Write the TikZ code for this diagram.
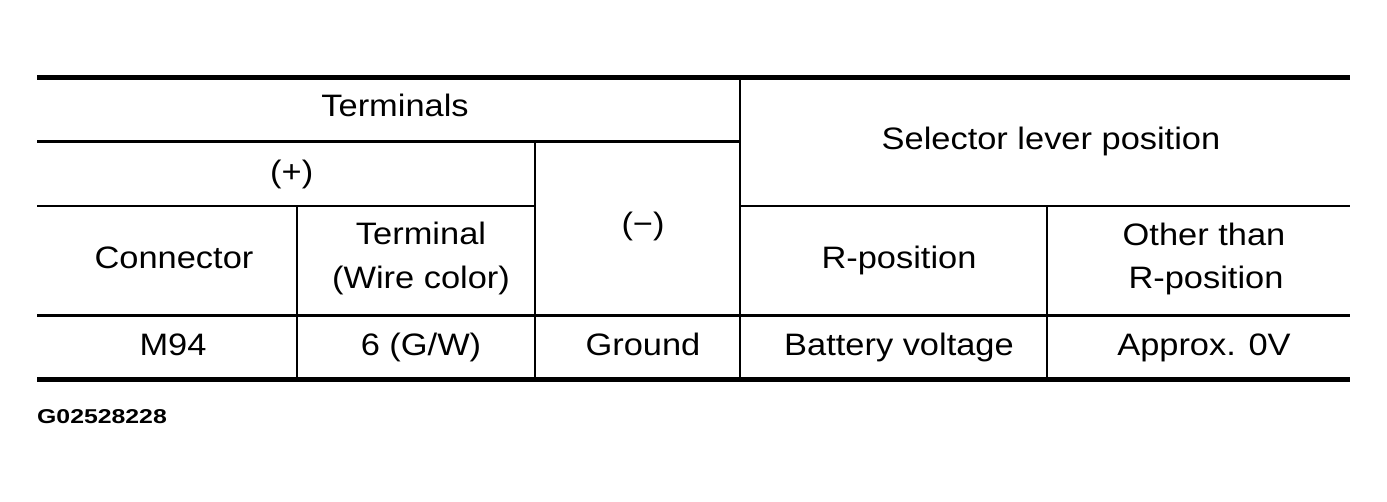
\documentclass[tikz,border=0pt]{standalone}
\usepackage{fontspec}
\setmainfont{Liberation Sans}[FakeStretch=1.11]
\newfontfamily\codefont{Liberation Sans}[FakeStretch=1.24]
\begin{document}
\begin{tikzpicture}[x=1pt,y=-1pt,
  txt/.style={anchor=base,inner sep=0pt,font=\fontsize{31}{37}\selectfont},
  code/.style={anchor=base west,inner sep=0pt,font=\codefont\bfseries\fontsize{20}{24}\selectfont},
  thickrule/.style={line width=5pt},
  thinrule/.style={line width=2.4pt}]
\useasboundingbox (0,0) rectangle (1387,502);
% rules
\draw[thickrule] (37,78) -- (1350,78);
\draw[thickrule] (37,380) -- (1350,380);
\draw[thinrule] (37,141.7) -- (740,141.7);
\draw[thinrule] (37,206) -- (535,206);
\draw[thinrule] (740,206) -- (1350,206);
\draw[thinrule] (37,315.7) -- (1350,315.7);
\draw[thinrule] (740,78) -- (740,380);
\draw[thinrule] (535,141.7) -- (535,380);
\draw[thinrule] (297,206) -- (297,380);
\draw[thinrule] (1047,206) -- (1047,380);
% header texts
\node[txt] (terminals) at (395,117) {Terminals};
\node[txt] (plus) at (291.7,183) {(+)};
\node[txt] (minus) at (643,235) {(−)};
\node[txt] (connector) at (174,269) {Connector};
\node[txt] (terminal) at (421,245) {Terminal};
\node[txt] (wirecolor) at (421,289) {(Wire color)};
\node[txt] (selector) at (1051,150) {Selector lever position};
\node[txt] (rpos) at (899,269) {R-position};
\node[txt] (other) at (1204,246) {Other than};
\node[txt] (rpos2) at (1206,289) {R-position};
% data row
\node[txt] (m94) at (173,356) {M94};
\node[txt] (six) at (421,356) {6 (G/W)};
\node[txt] (ground) at (643,356) {Ground};
\node[txt] (battery) at (899,356) {Battery voltage};
\node[txt] (approx) at (1204,356) {Approx. 0V};
% code
\node[code] (gcode) at (37,423.3) {G02528228};
\end{tikzpicture}
\end{document}
